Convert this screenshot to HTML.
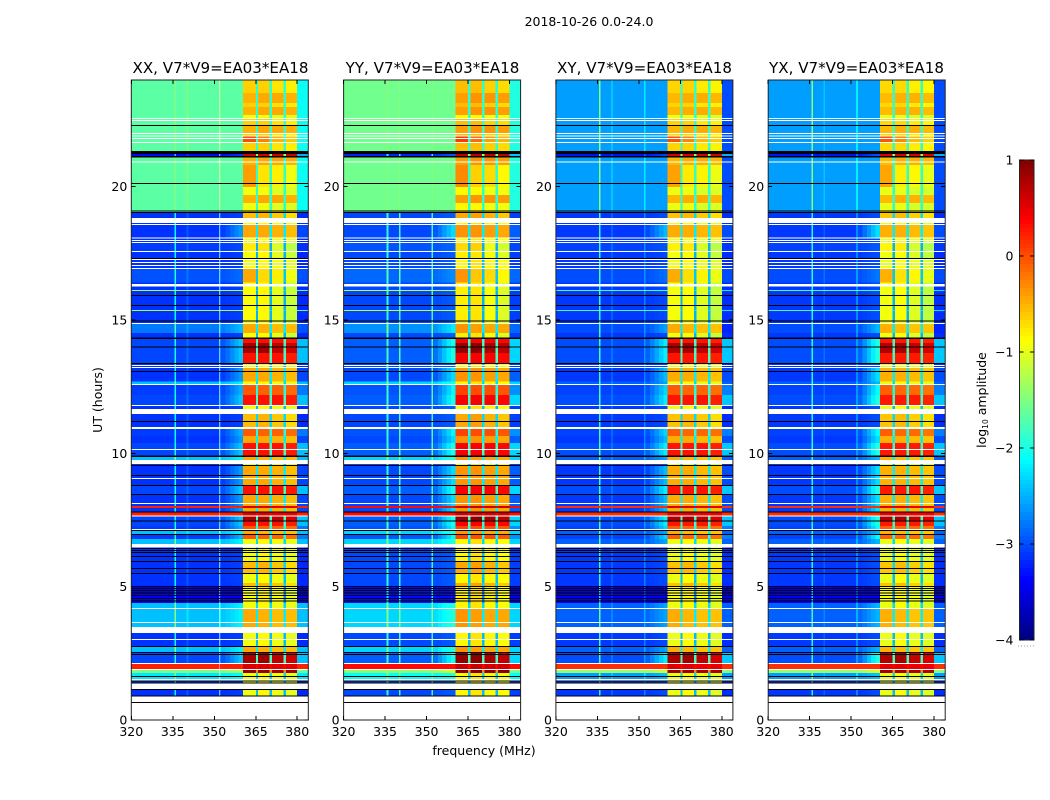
<!DOCTYPE html>
<html lang="en">
<head>
<meta charset="utf-8">
<title>2018-10-26 amplitude waterfall</title>
<style>
html,body{margin:0;padding:0;background:#fff;}
svg{display:block;font-family:"DejaVu Sans","Liberation Sans",sans-serif;fill:#000;}
</style>
</head>
<body>
<svg id="chart" xmlns="http://www.w3.org/2000/svg" width="1050" height="800" viewBox="0 0 1050 800">
  <text x="589" y="26" font-size="12.5" text-anchor="middle">2018-10-26 0.0-24.0</text>
  <g id="plots"></g>
  <text x="220.5" y="73" font-size="15.1" text-anchor="middle">XX, V7*V9=EA03*EA18</text>
  <text x="432.5" y="73" font-size="15.1" text-anchor="middle">YY, V7*V9=EA03*EA18</text>
  <text x="644.5" y="73" font-size="15.1" text-anchor="middle">XY, V7*V9=EA03*EA18</text>
  <text x="856.5" y="73" font-size="15.1" text-anchor="middle">YX, V7*V9=EA03*EA18</text>
  <text x="484" y="755" font-size="12.5" text-anchor="middle">frequency (MHz)</text>
  <text transform="translate(102 400) rotate(-90)" font-size="12.5" text-anchor="middle">UT (hours)</text>
  <text transform="translate(986 400) rotate(-90)" font-size="12.5" text-anchor="middle">log<tspan font-size="7.5" dy="2">10</tspan><tspan dy="-2"> amplitude</tspan></text>
  <g id="cbar"></g>
</svg>
<script>
/* ---------- axis labels ---------- */
const freqTicks = [320, 335, 350, 365, 380];
const utTicks = [0, 5, 10, 15, 20];
const colorTicks = [-4, -3, -2, -1, 0, 1];

/* ---------- panels ---------- */
const panelCross = [0, 0, 1, 1];
const panelBgShift = [-0.03, 0.08, 0, 0];
const panelBandShift = [0, 0.1, -0.02, -0.04];
const panelSkirtGain = [0.7, 1, 0.9, 1.15];
const rfiFreqs = [335.6, 340, 351.8];
const panelRfiBoost = [
  [1.0, 0.2, 0.3],
  [1.1, 1.2, 1.2],
  [1.2, 0.2, 0.4],
  [1.1, 0.2, 0.4]
];

/* ---------- frequency structure (MHz) ---------- */
const freqMin = 320;
const freqMax = 384;
const skirtStart = 352.5;
const bandStarts = [360.4, 365.8, 370.9, 375.9];
const bandEnds = [365.0, 370.0, 375.0, 380.0];

/* ---------- row kinds: log10 amplitude levels ---------- */
const kindKeys  = ['a','b','c','d','f','e','p','M','y','Y','g','C','H','x','D','S','m','o','R','G','q','n','B'];
const kindBgCo  = [-1.65,-1.65,-1.65,-1.65,-1.65,-3.3,-3.1,-3.1,-3.1,-3.05,-2.95,-2.4,-2.4,-3.4,-3.0,-3.0,-3.05,-3.1,0.25,-1.5,-2.2,-1.3,-2.75];
const kindBgX   = [-2.6,-2.6,-2.6,-2.6,-2.6,-3.3,-3.1,-3.1,-3.1,-3.05,-3.0,-2.9,-2.9,-3.4,-3.0,-3.0,-3.05,-3.1,0.15,-1.4,-2.6,-1.8,-3.0];
const kindSkirt = [0,0,0,0,0,0.3,0.1,0.1,0.1,0.1,0.2,0.4,0.4,0,1.0,1.0,0.9,0.8,0,0.4,0.2,0,0.5];
const kindBand1 = [-0.65,-0.5,-0.95,-0.4,0.0,0.6,-0.95,-0.55,-0.9,-0.8,-0.45,-0.45,-0.95,-0.9,0.8,0.3,-0.05,-0.45,0.55,0.9,-0.95,-0.9,-0.45];
const kindBand2 = [-0.65,-0.45,-0.95,-0.75,-0.25,0.6,-0.85,-0.5,-0.85,-0.75,-0.7,-0.5,-0.85,-0.8,0.85,0.3,-0.1,-0.45,0.55,0.9,-0.85,-0.85,-0.5];
const kindBand3 = [-0.75,-0.45,-1.05,-0.8,-0.5,0.6,-0.95,-0.6,-1.0,-1.05,-0.8,-0.55,-0.95,-0.9,0.7,0.3,-0.1,-0.5,0.5,0.85,-0.95,-1.0,-0.55];
const kindBand4 = [-0.8,-0.5,-1.05,-0.95,-0.6,0.6,-1.0,-0.7,-1.15,-1.2,-0.95,-0.55,-1.0,-1.0,0.6,0.25,-0.15,-0.55,0.5,0.85,-1.0,-1.15,-0.55];
const kindGap   = [-1.9,-1.9,-1.9,-1.9,-1.9,-1.5,-2.45,-2.3,-2.5,-2.5,-2.4,-2.2,-2.3,-2.7,-1.8,-1.8,-2.0,-2.2,0.4,-0.3,-2.3,-2.3,-2.2];
const kindEdge  = [-0.4,-0.4,-0.4,-0.4,-0.4,0.8,-0.05,-0.05,-0.05,-0.05,0,0,0,-0.1,0.6,0.6,0.3,0.1,0,-0.1,0,-0.4,-0.2];

/* ---------- time rows: upper edge in UT hours, then the kind of that row.
   W = flagged (blank), K = zero-data (black) ---------- */
const rowTopUT = [
  0.638,0.675,0.881,0.919,1.125,1.163,1.369,1.406,1.444,1.481,
  1.538,1.613,1.650,1.763,1.875,1.913,2.100,2.138,2.438,2.475,
  2.513,2.550,2.738,2.775,3.000,3.038,3.263,3.488,3.638,3.675,
  4.163,4.200,4.388,4.444,4.481,4.538,4.575,4.650,4.688,4.744,
  4.781,4.838,4.875,4.913,4.950,4.988,5.025,5.138,5.475,5.513,
  5.663,5.700,5.925,5.963,6.113,6.150,6.263,6.300,6.338,6.375,
  6.413,6.450,6.469,6.600,6.788,6.938,6.975,7.088,7.125,7.163,
  7.275,7.444,7.481,7.631,7.669,7.781,7.819,7.950,8.025,8.100,
  8.138,8.438,8.475,8.775,8.813,9.038,9.075,9.150,9.188,9.525,
  9.563,9.600,9.750,9.863,9.919,10.125,10.163,10.388,10.650,10.913,
  10.988,11.175,11.213,11.475,11.663,11.775,11.813,12.188,12.563,12.600,
  12.694,13.050,13.088,13.200,13.238,13.275,13.313,13.350,13.388,13.763,
  13.969,14.006,14.138,14.288,14.344,14.513,14.850,14.888,14.944,14.981,
  15.338,15.375,15.525,15.563,15.900,15.938,16.088,16.125,16.256,16.350,
  16.406,16.913,16.950,17.025,17.063,17.138,17.175,17.250,17.288,17.325,
  17.550,17.588,17.888,17.925,17.963,18.000,18.056,18.094,18.563,18.600,
  18.638,18.825,19.013,19.050,19.069,19.106,19.388,19.688,19.988,20.100,
  20.138,20.813,20.906,20.944,21.094,21.150,21.225,21.338,21.638,21.675,
  21.788,21.825,21.881,21.919,21.975,22.013,22.275,22.313,22.463,22.500,
  22.538,22.575,22.688,22.988,23.138,23.513,24.000
];
const rowKinds = [
  'W','K','W','K','p','K','W','K','p','K',
  'W','q','K','q','G','W','R','W','D','K',
  'D','K','C','K','p','W','p','W','C','W',
  'C','W','H','x','K','x','K','x','K','x',
  'K','x','K','x','K','x','K','M','p','K',
  'M','K','M','K','p','K','p','K','p','K',
  'p','K','p','W','H','m','K','C','K','W',
  'm','S','K','D','W','R','K','o','R','o',
  'W','o','K','S','K','o','W','o','K','o',
  'K','p','W','C','K','S','W','S','o','m',
  'W','M','K','M','W','p','W','S','m','W',
  'H','o','K','o','W','p','W','p','K','S',
  'D','K','D','S','K','y','B','W','y','K',
  'y','n','y','K','y','K','y','n','y','W',
  'y','g','W','p','W','p','W','p','W','K',
  'y','W','Y','W','p','W','p','W','o','W',
  'p','W','M','K','a','K','c','b','c','d',
  'K','d','b','W','b','K','e','K','a','W',
  'f','W','f','W','a','W','b','K','a','W',
  'a','W','c','b','a','b','a'
];

/* ---------- axis functions ---------- */
const plotTop = 80, plotBottom = 720, plotWidth = 177;
function plotLeft(i) { return 131.3 + 212.3 * i; }
function xScale(i, f) { return plotLeft(i) + (f - freqMin) / (freqMax - freqMin) * plotWidth; }
function yScale(ut) { return plotBottom - ut / 24 * (plotBottom - plotTop); }

/* ---------- jet colour map over log10 amplitude -4 .. 1 ---------- */
function jet(v) {
  let t = (v + 4) / 5;
  t = Math.max(0, Math.min(1, t));
  const ramp = c => Math.round(255 * Math.max(0, Math.min(1, 1.5 - Math.abs(4 * t - c))));
  return 'rgb(' + ramp(3) + ',' + ramp(2) + ',' + ramp(1) + ')';
}

const NS = 'http://www.w3.org/2000/svg';
function svgEl(parent, tag) {
  const el = document.createElementNS(NS, tag);
  parent.appendChild(el);
  return el;
}
function cell(g, x0, x1, y0, y1, fill) {
  const r = svgEl(g, 'rect');
  r.setAttribute('x', x0.toFixed(2));
  r.setAttribute('y', y0.toFixed(2));
  r.setAttribute('width', (x1 - x0).toFixed(2));
  r.setAttribute('height', (y1 - y0).toFixed(2));
  r.setAttribute('fill', fill);
  r.setAttribute('shape-rendering', 'crispEdges');
  
  
  return r;
}
function tickLine(g, x1, y1, x2, y2) {
  const l = svgEl(g, 'line');
  l.setAttribute('x1', x1);
  l.setAttribute('y1', y1);
  l.setAttribute('x2', x2);
  l.setAttribute('y2', y2);
  l.setAttribute('stroke', '#000');
  l.setAttribute('stroke-width', '1');
  l.setAttribute('shape-rendering', 'crispEdges');
  
  
  return l;
}
function label(g, x, y, txt, anchor) {
  const t = svgEl(g, 'text');
  t.setAttribute('x', x);
  t.setAttribute('y', y);
  t.setAttribute('font-size', '12.5');
  t.setAttribute('text-anchor', anchor);
  t.textContent = txt;
  
  
  return t;
}

/* ---------- panels ---------- */
const plots = document.getElementById('plots');
panelCross.forEach(function (isCross, pi) {
  const g = svgEl(plots, 'g');
  
  

  let prevUT = 0;
  rowTopUT.forEach(function (topUT, ri) {
    const kind = rowKinds[ri];
    const y0 = yScale(topUT), y1 = yScale(prevUT);
    prevUT = topUT;
    if (kind === 'W') return;
    if (kind === 'K') {
      cell(g, xScale(pi, freqMin), xScale(pi, freqMax), y0, y1, '#000');
      return;
    }
    const k = kindKeys.indexOf(kind);
    const bg = (isCross ? kindBgX : kindBgCo)[k] + panelBgShift[pi];
    const shift = panelBandShift[pi];

    /* background channels, split by the narrow interference lines */
    let f = freqMin;
    rfiFreqs.forEach(function (rf, li) {
      cell(g, xScale(pi, f), xScale(pi, rf), y0, y1, jet(bg));
      const v = Math.max(bg, Math.min(-1.5, bg + panelRfiBoost[pi][li]));
      cell(g, xScale(pi, rf), xScale(pi, rf + 0.6), y0, y1, jet(v));
      f = rf + 0.6;
    });
    cell(g, xScale(pi, f), xScale(pi, skirtStart), y0, y1, jet(bg));

    /* skirt rising towards the band */
    const steps = 5;
    const stepW = (bandStarts[0] - skirtStart) / steps;
    for (let s = 0; s < steps; s++) {
      const lift = kindSkirt[k] * panelSkirtGain[pi] * (s + 0.5) / steps;
      const a = skirtStart + s * stepW;
      cell(g, xScale(pi, a), xScale(pi, a + stepW), y0, y1, jet(bg + lift));
    }

    /* four sub-bands and the gaps between them */
    const levels = [kindBand1[k], kindBand2[k], kindBand3[k], kindBand4[k]];
    levels.forEach(function (lv, b) {
      cell(g, xScale(pi, bandStarts[b]), xScale(pi, bandEnds[b]), y0, y1, jet(lv + shift));
      if (b < 3) {
        cell(g, xScale(pi, bandEnds[b]), xScale(pi, bandStarts[b + 1]), y0, y1, jet(kindGap[k]));
      }
    });
    cell(g, xScale(pi, bandEnds[3]), xScale(pi, freqMax), y0, y1, jet(bg + kindEdge[k]));
  });

  /* frame */
  const left = plotLeft(pi), right = left + plotWidth;
  const frame = svgEl(g, 'rect');
  frame.setAttribute('x', left);
  frame.setAttribute('y', plotTop);
  frame.setAttribute('width', plotWidth);
  frame.setAttribute('height', plotBottom - plotTop);
  frame.setAttribute('fill', 'none');
  frame.setAttribute('stroke', '#222');
  frame.setAttribute('stroke-width', '1');
  
  

  /* ticks */
  freqTicks.forEach(function (ft) {
    const x = xScale(pi, ft);
    tickLine(g, x, plotBottom, x, plotBottom - 4);
    tickLine(g, x, plotTop, x, plotTop + 4);
    label(g, x, plotBottom + 16, String(ft), 'middle');
  });
  utTicks.forEach(function (ut) {
    const y = yScale(ut);
    tickLine(g, left, y, left + 4, y);
    tickLine(g, right, y, right - 4, y);
    label(g, left - 4, y + 4.5, String(ut), 'end');
  });
});

/* ---------- colour bar ---------- */
const cbar = document.getElementById('cbar');
const cbLeft = 1019.5, cbRight = 1034, cbTop = 160, cbBottom = 640;
function cbScale(v) { return cbBottom - (v + 4) / 5 * (cbBottom - cbTop); }
for (let i = 0; i < 120; i++) {
  const lo = -4 + i * 5 / 120, hi = lo + 5 / 120;
  const r = cell(cbar, cbLeft, cbRight, cbScale(hi), cbScale(lo), jet((lo + hi) / 2));
  
}
const cbFrame = svgEl(cbar, 'rect');
cbFrame.setAttribute('x', cbLeft);
cbFrame.setAttribute('y', cbTop);
cbFrame.setAttribute('width', cbRight - cbLeft);
cbFrame.setAttribute('height', cbBottom - cbTop);
cbFrame.setAttribute('fill', 'none');
cbFrame.setAttribute('stroke', '#222');
cbFrame.setAttribute('stroke-width', '1');


colorTicks.forEach(function (v) {
  const y = cbScale(v);
  tickLine(cbar, cbLeft, y, cbLeft + 4, y);
  tickLine(cbar, cbRight, y, cbRight - 4, y);
  const txt = v < 0 ? '\u2212' + Math.abs(v) : String(v);
  label(cbar, cbLeft - 6, y + 4.5, txt, 'end');
});
const cbDots = svgEl(cbar, 'line');
cbDots.setAttribute('x1', 1018);
cbDots.setAttribute('y1', 646);
cbDots.setAttribute('x2', 1035);
cbDots.setAttribute('y2', 646);
cbDots.setAttribute('stroke', '#999');
cbDots.setAttribute('stroke-width', '1');
cbDots.setAttribute('stroke-dasharray', '1 2');


</script>
</body>
</html>
